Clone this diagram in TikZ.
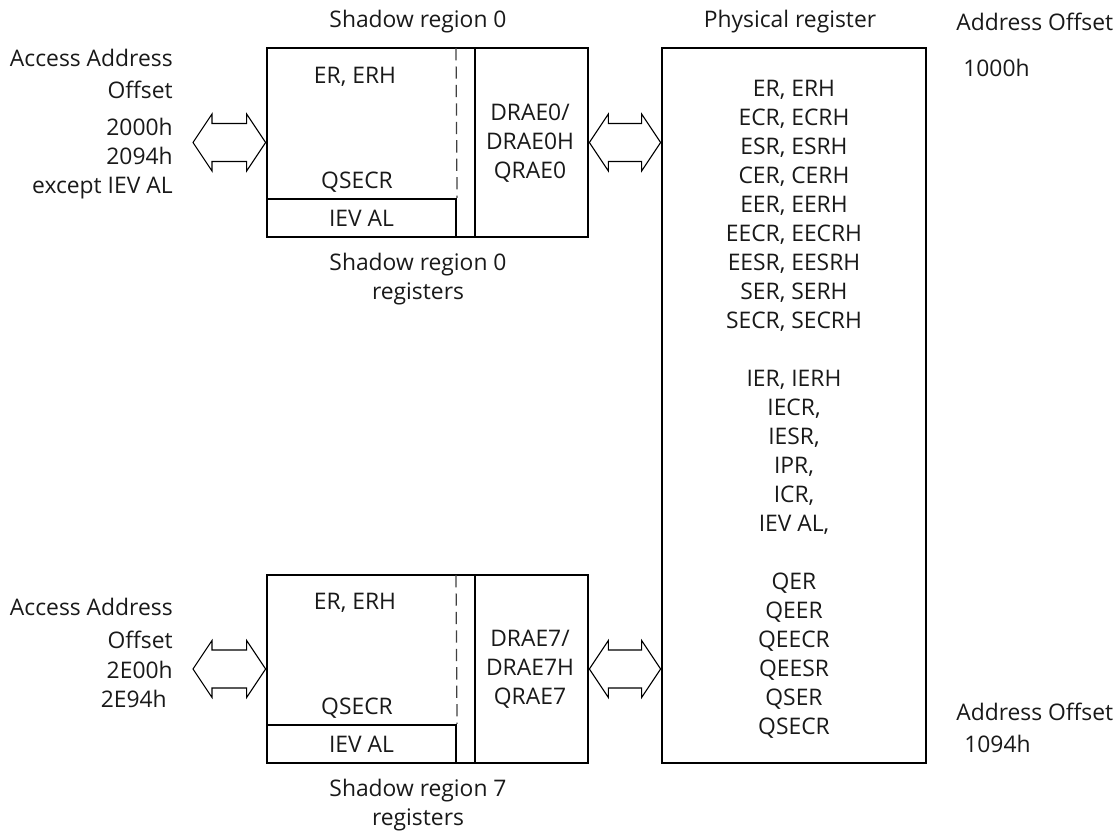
\documentclass[tikz,border=0pt]{standalone}
\usepackage{fontspec}
\setmainfont{Open Sans}
\usepackage{tikz}
\usetikzlibrary{calc}

% hollow two-headed bus arrow between two points on one line
\newcommand{\busarrow}[2]{%
	\draw[bus] (#1) -- ++(19,-28.5) -- ++(0,9.5) -- ($(#2)+(-19,-19)$) -- ++(0,-9.5) -- (#2)
		-- ++(-19,28.5) -- ++(0,-9.5) -- ($(#1)+(19,19)$) -- ++(0,9.5) -- cycle;}

\begin{document}
\begin{tikzpicture}[x=0.02cm,y=-0.02cm,
	font=\fontsize{13}{16.5}\selectfont,
	txt/.style={text=black!90,inner sep=0pt},
	regbox/.style={draw,line width=1.6pt,inner sep=0pt},
	ievbox/.style={draw,line width=1.2pt,inner sep=0pt,minimum width=3.78cm,minimum height=0.76cm,text=black!90},
	divider/.style={line width=1.2pt},
	dashline/.style={line width=0.7pt,black!75,dash pattern=on 7pt off 3.5pt},
	bus/.style={line width=0.6pt,fill=white}]
	\useasboundingbox (0,0) rectangle (1117,831);

	% shadow region 0
	\node[ievbox] (iev0) at (361.5,218) {IEV AL};
	\node[regbox,minimum width=6.42cm,minimum height=3.78cm] (sr0) at (427.5,142.5) {};
	\draw[dashline] (456,48) -- (iev0.north east);
	\draw[divider] (475,48) -- (475,237);
	\node[txt] (er0) at (355,77) {ER, ERH};
	\node[txt] (qsecr0) at (357,182) {QSECR};
	\node[txt,align=center] (drae0) at (530,143) {DRAE0/\\DRAE0H\\QRAE0};
	\node[txt] (sr0top) at (418,22) {Shadow region 0};
	\node[txt,align=center] (sr0lbl) at (418,279) {Shadow region 0\\registers};

	% shadow region 7
	\node[ievbox] (iev7) at (361.5,744) {IEV AL};
	\node[regbox,minimum width=6.42cm,minimum height=3.76cm] (sr7) at (427.5,669) {};
	\draw[dashline] (456,575) -- (iev7.north east);
	\draw[divider] (475,575) -- (475,763);
	\node[txt] (er7) at (355,603) {ER, ERH};
	\node[txt] (qsecr7) at (357,708) {QSECR};
	\node[txt,align=center] (drae7) at (530,669) {DRAE7/\\DRAE7H\\QRAE7};
	\node[txt,align=center] (sr7lbl) at (418,805) {Shadow region 7\\registers};

	% physical register
	\node[regbox,minimum width=5.28cm,minimum height=14.3cm] (phys) at (794,405.5) {};
	\node[txt] (physlbl) at (790,22) {Physical register};
	\node[txt,align=center,anchor=north] (physregs) at (794,80) {ER, ERH\\ECR, ECRH\\ESR, ESRH\\CER, CERH\\EER, EERH\\EECR, EECRH\\EESR, EESRH\\SER, SERH\\SECR, SECRH\\[16.5pt]
		IER, IERH\\IECR,\\IESR,\\IPR,\\ICR,\\IEV AL,\\[16.5pt]
		QER\\QEER\\QEECR\\QEESR\\QSER\\QSECR};
	\node[txt,anchor=west] (offtop) at (956,22) {Address Offset};
	\node[txt,anchor=west] (off1000) at (963,68) {1000h};
	\node[txt,anchor=west] (offbot) at (956,712) {Address Offset};
	\node[txt,anchor=west] (off1094) at (964,744) {1094h};

	% access addresses
	\node[txt,align=right,anchor=north east] (acc0lbl) at (173,49) {Access Address\\[1.5pt]Offset\\[4.5pt]2000h\hspace*{3.4pt}\\2094h\hspace*{3.4pt}\\except IEV AL};
	\node[txt,align=right,anchor=north east] (acc7lbl) at (173,598) {Access Address\\[2.3pt]Offset\\[0.5pt]2E00h\hspace*{3.4pt}\\2E94h\hspace*{3.4pt}};

	% bus arrows
	\coordinate (acc0) at (193,142.5);
	\coordinate (acc7) at (193,669);
	\coordinate (phys0) at (phys.west |- sr0.east);
	\coordinate (phys7) at (phys.west |- sr7.east);
	\busarrow{acc0}{sr0.west}
	\busarrow{sr0.east}{phys0}
	\busarrow{acc7}{sr7.west}
	\busarrow{sr7.east}{phys7}
\end{tikzpicture}
\end{document}
